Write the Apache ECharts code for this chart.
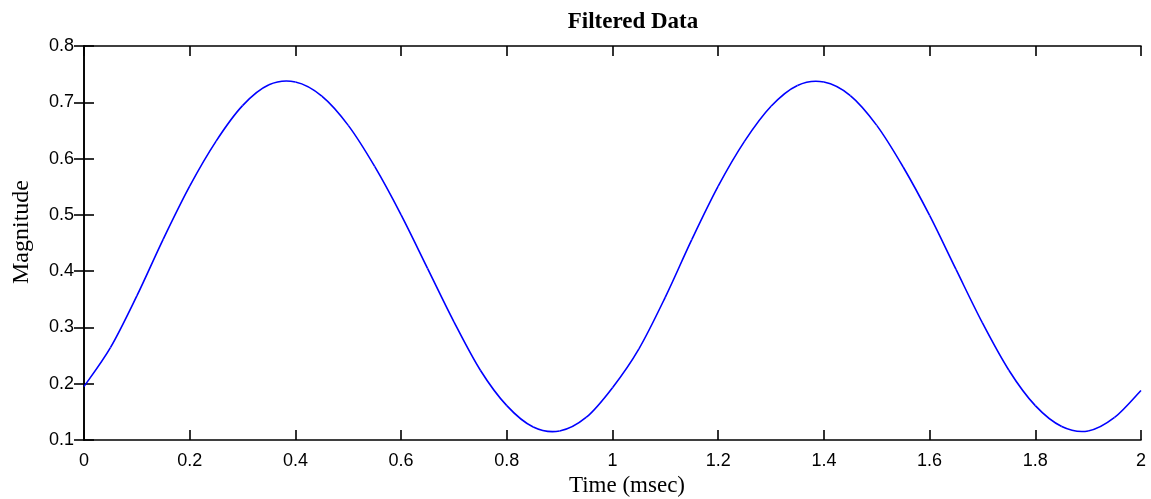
<!DOCTYPE html>
<html>
<head>
<meta charset="utf-8">
<script src="https://cdn.jsdelivr.net/npm/echarts@6/dist/echarts.min.js"></script>
<style>html,body{margin:0;padding:0;background:#fff;}#c{width:1151px;height:499px;}</style>
</head>
<body>
<div id="c"></div>
<script>
const title = 'Filtered Data';
const xLabel = 'Time (msec)';
const yLabel = 'Magnitude';
const timeMs = [0,0.05,0.1,0.15,0.2,0.25,0.3,0.35,0.4,0.45,0.5,0.55,0.6,0.65,0.7,0.75,0.8,0.85,0.9,0.95,1.0,
  1.05,1.1,1.15,1.2,1.25,1.3,1.35,1.4,1.45,1.5,1.55,1.6,1.65,1.7,1.75,1.8,1.85,1.9,1.95,2.0];
const magnitude = [0.195,0.264,0.356,0.457,0.551,0.631,0.694,0.731,0.736,0.711,0.659,0.586,0.500,0.405,0.310,0.224,0.161,0.123,0.116,0.140,0.193,
  0.262,0.354,0.456,0.551,0.631,0.693,0.730,0.736,0.712,0.659,0.585,0.499,0.403,0.308,0.224,0.161,0.124,0.116,0.140,0.188];

const serif = 'Liberation Serif, Times New Roman, serif';
const chart = echarts.init(document.getElementById('c'), null, {renderer:'canvas'});
const axisLine = {show:true, lineStyle:{color:'#000', width:1.6}};
const tick = {show:true, inside:true, length:10, lineStyle:{color:'#000', width:1.6}};
const lbl = {color:'#000', fontFamily:'Liberation Sans, Arial, sans-serif', fontSize:18};
const fmt = v => String(parseFloat(v.toFixed(1)));

// Draws a smooth curve through the data points (Catmull-Rom), positioned via the axes' scales.
function renderCurve(params, api) {
  const pts = timeMs.map((t, i) => api.coord([t, magnitude[i]]));
  const n = pts.length;
  const children = [];
  for (let i = 0; i < n - 1; i++) {
    const p0 = pts[Math.max(i - 1, 0)], p1 = pts[i], p2 = pts[i + 1], p3 = pts[Math.min(i + 2, n - 1)];
    children.push({
      type: 'bezierCurve',
      shape: {
        x1: p1[0], y1: p1[1], x2: p2[0], y2: p2[1],
        cpx1: p1[0] + (p2[0] - p0[0]) / 6, cpy1: p1[1] + (p2[1] - p0[1]) / 6,
        cpx2: p2[0] - (p3[0] - p1[0]) / 6, cpy2: p2[1] - (p3[1] - p1[1]) / 6
      },
      style: {fill: null, stroke: '#0000ff', lineWidth: 1.6}
    });
  }
  return {type: 'group', children: children};
}

chart.setOption({
  animation:false,
  backgroundColor:'#fff',
  grid:{left:84, right:10, top:46, bottom:59, containLabel:false, outerBoundsMode:'none'},
  xAxis:[{
    type:'value', min:0, max:2, interval:0.2, position:'bottom',
    axisLine:axisLine, axisTick:tick, splitLine:{show:false},
    axisLabel:Object.assign({margin:12, formatter:fmt}, lbl)
  },{
    type:'value', min:0, max:2, interval:0.2, position:'top',
    axisLine:axisLine, axisTick:tick, splitLine:{show:false}, axisLabel:{show:false}
  }],
  yAxis:[{
    type:'value', min:0.1, max:0.8, interval:0.1, position:'left',
    axisLine:axisLine, axisTick:tick, splitLine:{show:false},
    axisLabel:Object.assign({margin:10, formatter:fmt}, lbl)
  },{
    type:'value', min:0.1, max:0.8, interval:0.1, position:'right',
    axisLine:axisLine, axisTick:tick, splitLine:{show:false}, axisLabel:{show:false}
  }],
  graphic:[
    {type:'text', x:633, y:22, style:{text:title, fill:'#000', font:'bold 23px ' + serif, textAlign:'center', textVerticalAlign:'middle'}},
    {type:'text', x:627, y:486, style:{text:xLabel, fill:'#000', font:'23px ' + serif, textAlign:'center', textVerticalAlign:'middle'}},
    {type:'text', x:22, y:232, rotation:Math.PI/2, style:{text:yLabel, fill:'#000', font:'24px ' + serif, textAlign:'center', textVerticalAlign:'middle'}}
  ],
  series:[{
    type:'custom', coordinateSystem:'cartesian2d', xAxisIndex:0, yAxisIndex:0,
    data:[[timeMs[0], magnitude[0]]], silent:true, clip:false,
    renderItem: renderCurve
  }]
});
</script>
</body>
</html>
